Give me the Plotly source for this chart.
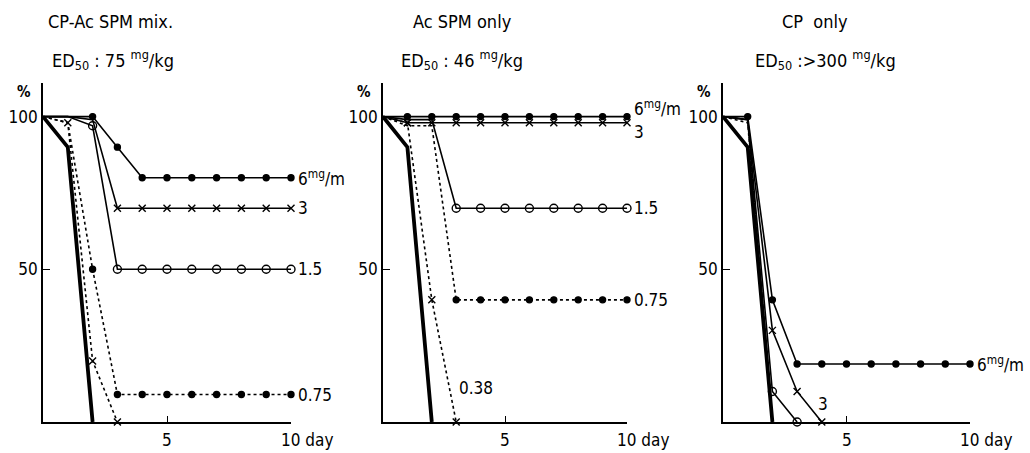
import plotly.graph_objects as go

# ---------------- data ----------------
days = [0, 1, 2, 3, 4, 5, 6, 7, 8, 9, 10]

# Panel 1: CP-Ac SPM mix.
mix_6 = [100, 100, 100, 90, 80, 80, 80, 80, 80, 80, 80]
mix_3 = [100, 100, 99, 70, 70, 70, 70, 70, 70, 70, 70]
mix_1_5 = [100, 100, 97, 50, 50, 50, 50, 50, 50, 50, 50]
mix_0_75 = [100, 98, 50, 9, 9, 9, 9, 9, 9, 9, 9]
mix_0_38 = [100, 98, 20, 0]
mix_ctrl = [100, 90, 0]

# Panel 2: Ac SPM only
ac_6 = [100, 100, 100, 100, 100, 100, 100, 100, 100, 100, 100]
ac_3 = [100, 98, 98, 98, 98, 98, 98, 98, 98, 98, 98]
ac_1_5 = [100, 99, 99, 70, 70, 70, 70, 70, 70, 70, 70]
ac_0_75 = [100, 97, 97, 40, 40, 40, 40, 40, 40, 40, 40]
ac_0_38 = [100, 98, 40, 0]
ac_ctrl = [100, 90, 0]

# Panel 3: CP only
cp_6 = [100, 100, 40, 19, 19, 19, 19, 19, 19, 19, 19]
cp_3 = [100, 99, 30, 10, 0]
cp_1_5 = [100, 99, 10, 0]
cp_0_75 = [100, 99, 0]
cp_0_38 = [100, 98, 0]
cp_ctrl = [100, 90, 0]

panel_titles = ["CP-Ac SPM mix.", "Ac SPM only", "CP  only"]
panel_ed50 = ["ED<sub>50</sub> : 75 <sup>mg</sup>/kg",
              "ED<sub>50</sub> : 46 <sup>mg</sup>/kg",
              "ED<sub>50</sub> :&gt;300 <sup>mg</sup>/kg"]

# ---------------- styles ----------------
FONT = "DejaVu Sans Condensed, Liberation Sans Narrow, DejaVu Sans, sans-serif"
BLACK = "#000000"

STY = {
    "6":    dict(dash="solid", width=1.6, symbol="circle", size=6),
    "3":    dict(dash="solid", width=1.6, symbol="x-thin", size=7),
    "1.5":  dict(dash="solid", width=1.6, symbol="circle-open", size=8),
    "0.75": dict(dash="dot", width=1.6, symbol="circle", size=6),
    "0.38": dict(dash="dot", width=1.6, symbol="x-thin", size=7),
    "ctrl": dict(dash="solid", width=3.8, symbol="circle", size=0),
}

panels = [
    {"6": mix_6, "3": mix_3, "1.5": mix_1_5, "0.75": mix_0_75, "0.38": mix_0_38, "ctrl": mix_ctrl},
    {"6": ac_6, "3": ac_3, "1.5": ac_1_5, "0.75": ac_0_75, "0.38": ac_0_38, "ctrl": ac_ctrl},
    {"6": cp_6, "3": cp_3, "1.5": cp_1_5, "0.75": cp_0_75, "0.38": cp_0_38, "ctrl": cp_ctrl},
]
marker_start = [
    {"6": 2, "3": 3, "1.5": 2, "0.75": 2, "0.38": 1, "ctrl": 99},
    {"6": 1, "3": 1, "1.5": 3, "0.75": 3, "0.38": 1, "ctrl": 99},
    {"6": 1, "3": 2, "1.5": 2, "0.75": 99, "0.38": 99, "ctrl": 99},
]

W, H = 1030, 453
ML, MR, MT, MB = 0, 0, 83, 31
domains = [(43, 291), (383, 627), (723, 970)]

fig = go.Figure()

for i, series in enumerate(panels):
    ax = "" if i == 0 else str(i + 1)
    for key in ["ctrl", "0.38", "0.75", "1.5", "3", "6"]:
        vals = series[key]
        st = STY[key]
        n = len(vals)
        s0 = marker_start[i][key]
        sizes = [0 if j < s0 else st["size"] for j in range(n)]
        fig.add_trace(go.Scatter(
            x=days[:n], y=vals,
            mode="lines+markers" if st["size"] else "lines",
            line=dict(color=BLACK, width=st["width"], dash=st["dash"]),
            marker=dict(symbol=st["symbol"], size=sizes, color=BLACK, opacity=1,
                        line=dict(color=BLACK, width=1.4)),
            cliponaxis=False, showlegend=False, hoverinfo="skip",
            xaxis="x" + ax, yaxis="y" + ax,
        ))

axis_common = dict(showline=True, linecolor=BLACK, linewidth=1.6, showgrid=False,
                   zeroline=False, ticks="inside", tickcolor=BLACK, ticklen=6,
                   tickwidth=1.4, tickfont=dict(family=FONT, size=17, color=BLACK))

layout = dict(width=W, height=H, margin=dict(l=ML, r=MR, t=MT, b=MB),
              paper_bgcolor="white", plot_bgcolor="white",
              font=dict(family=FONT, color=BLACK))
for i, (a, b) in enumerate(domains):
    ax = "" if i == 0 else str(i + 1)
    layout["xaxis" + ax] = dict(axis_common, domain=[a / W, b / W], range=[0, 10],
                                tickvals=[5, 10], showticklabels=False,
                                anchor="y" + ax)
    layout["yaxis" + ax] = dict(axis_common, domain=[0, 1], range=[0, 111],
                                tickvals=[50, 100], ticktext=["50", "100"],
                                ticklen=7, anchor="x" + ax)
fig.update_layout(**layout)

ann = []
def A(text, x, y, xref, yref, size=17, xanchor="center", yanchor="middle", xshift=0, yshift=0):
    ann.append(dict(text=text, x=x, y=y, xref=xref, yref=yref, showarrow=False,
                    xanchor=xanchor, yanchor=yanchor, xshift=xshift, yshift=yshift,
                    font=dict(family=FONT, size=size, color=BLACK)))

plot_h = H - MT - MB
def py(pix):
    return (H - MB - pix) / plot_h

title_cx = [(110, 113), (462, 462), (815, 825)]
for i in range(3):
    ax = "" if i == 0 else str(i + 1)
    c1, c2 = title_cx[i]
    A(panel_titles[i], c1 / W, py(21), "paper", "paper", size=18)
    A(panel_ed50[i], c2 / W, py(60), "paper", "paper", size=18)
    A("<b>%</b>", 0, 108, "x" + ax, "y" + ax, size=15, xanchor="right", xshift=-10)
    A("5", 5, 0, "x" + ax, "y" + ax, size=17, yanchor="top", yshift=-6)
    A("10 day", 10, 0, "x" + ax, "y" + ax, size=17, xanchor="left", yanchor="top",
      xshift=-12, yshift=-6)

# right-side dose labels
A("6<sup>mg</sup>/m", 10, 80, "x", "y", xanchor="left", xshift=5)
A("3", 10, 70, "x", "y", xanchor="left", xshift=5)
A("1.5", 10, 50, "x", "y", xanchor="left", xshift=5)
A("0.75", 10, 9, "x", "y", xanchor="left", xshift=5)

A("6<sup>mg</sup>/m", 10, 100, "x2", "y2", xanchor="left", xshift=5, yshift=9)
A("3", 10, 98, "x2", "y2", xanchor="left", xshift=5, yshift=-9)
A("1.5", 10, 70, "x2", "y2", xanchor="left", xshift=5)
A("0.75", 10, 40, "x2", "y2", xanchor="left", xshift=5)
A("0.38", 3.05, 11, "x2", "y2", xanchor="left")

A("6<sup>mg</sup>/m", 10, 19, "x3", "y3", xanchor="left", xshift=5)
A("3", 4.05, 6, "x3", "y3", xanchor="center")

fig.update_layout(annotations=ann)
fig.write_html("out.html")
